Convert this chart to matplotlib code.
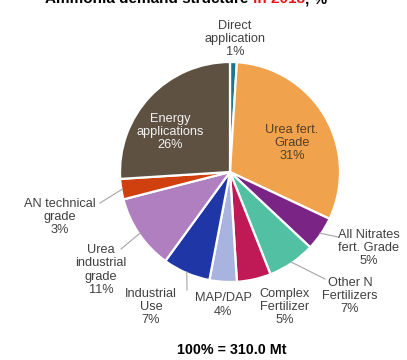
import matplotlib.pyplot as plt
import numpy as np

plt.rcParams['font.family'] = ['Liberation Sans', 'DejaVu Sans']

labels = ['Direct\napplication', 'Urea fert.\nGrade', 'All Nitrates\nfert. Grade',
          'Other N\nFertilizers', 'Complex\nFertilizer', 'MAP/DAP', 'Industrial\nUse',
          'Urea\nindustrial\ngrade', 'AN technical\ngrade', 'Energy\napplications']
shares = [1, 31, 5, 7, 5, 4, 7, 11, 3, 26]
colors = ['#17798a', '#f0a24c', '#7a2585', '#52c0a2', '#c01a56', '#a9b3df',
          '#1f36a6', '#b07fbf', '#d0400f', '#5e5142']
total_mt = 310.0

W, H = 407, 360
CX, CY, R = 230, 172, 110

fig = plt.figure(figsize=(W / 100, H / 100), dpi=100)
ax = fig.add_axes([(CX - R) / W, (H - CY - R) / H, 2 * R / W, 2 * R / H])

wedges, _ = ax.pie(shares, colors=colors, startangle=90, counterclock=False,
                   radius=1.0, wedgeprops=dict(edgecolor='white', linewidth=1.6))
ax.set_xlim(-1, 1)
ax.set_ylim(-1, 1)
ax.set_aspect('equal')
ax.axis('off')


def px(x, y):
    # pixel position in the figure -> data coords of the pie axes
    return (x - CX) / R, (CY - y) / R


# label centre (pixels), text colour, leader line end (pixels) or None
label_pos = [
    ((235, 39), '#404040', None),
    ((292, 143), '#553f28', None),
    ((369, 248), '#404040', (338, 237)),
    ((350, 296), '#404040', (325, 279)),
    ((285, 307), '#404040', None),
    ((223, 305), '#404040', None),
    ((151, 307), '#404040', (187, 290)),
    ((101, 270), '#404040', (121, 249)),
    ((60, 217), '#404040', (100, 203)),
    ((170, 132), '#f2f2f2', None),
]

for w, lab, val, (pos, tc, lend) in zip(wedges, labels, shares, label_pos):
    tx, ty = px(*pos)
    ax.text(tx, ty, f'{lab}\n{val}%', ha='center', va='center', fontsize=9.2,
            color=tc, linespacing=1.13, clip_on=False)
    if lend is not None:
        mid = np.deg2rad((w.theta1 + w.theta2) / 2)
        ex, ey = np.cos(mid) * 0.99, np.sin(mid) * 0.99
        lx, ly = px(*lend)
        ax.plot([lx, ex], [ly, ey], color='#a6a6a6', linewidth=0.8, clip_on=False)

fig.text(232 / W, 1 - 350 / H, f'100% = {total_mt:.1f} Mt', ha='center', va='center',
         fontsize=10.3, fontweight='bold', color='black')

# title, partly above the top edge
fig.canvas.draw()
renderer = fig.canvas.get_renderer()
x0 = 45 / W
ty = 1 - 3 / H
for part, col in [('Ammonia demand structure ', 'black'), ('in 2018', '#e8161b'), (', %', 'black')]:
    t = fig.text(x0, ty, part, ha='left', va='baseline', fontsize=11,
                 fontweight='bold', color=col)
    bb = t.get_window_extent(renderer)
    x0 += bb.width / W

fig.savefig('out.png', dpi=100)
